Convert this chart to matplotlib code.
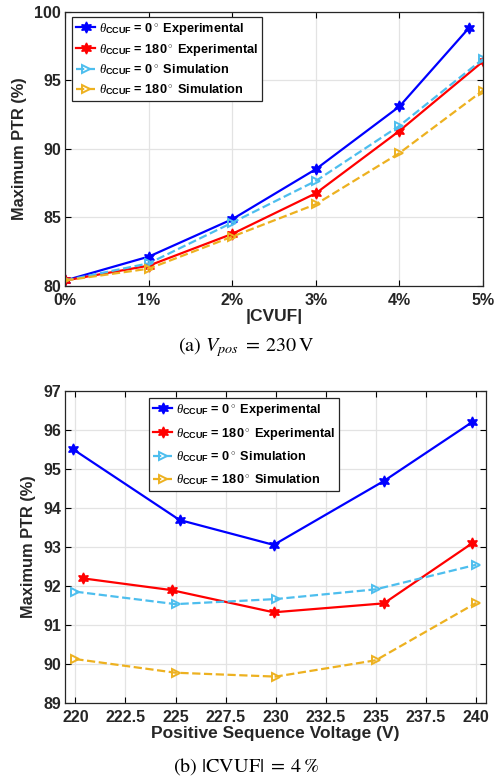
import matplotlib
matplotlib.use("Agg")
import matplotlib.pyplot as plt

plt.rcParams['font.family'] = ['Liberation Sans', 'DejaVu Sans']
plt.rcParams['mathtext.fontset'] = 'custom'
plt.rcParams['mathtext.rm'] = 'Liberation Sans:bold'
plt.rcParams['mathtext.bf'] = 'Liberation Sans:bold'
plt.rcParams['mathtext.it'] = 'Liberation Serif:italic'

# ---- data (a) ----
cvuf_x = [0, 1, 2, 3, 4, 4.83]
cvuf_x_full = [0, 1, 2, 3, 4, 5]
a_exp0 = [80.4, 82.14, 84.87, 88.52, 93.09, 98.8]
a_exp180 = [80.4, 81.48, 83.8, 86.76, 91.31, 96.37]
a_sim0 = [80.4, 81.65, 84.62, 87.66, 91.68, 96.55]
a_sim180 = [80.4, 81.26, 83.6, 85.96, 89.69, 94.25]
a_xticks = [0, 1, 2, 3, 4, 5]
a_xticklabels = ['0%', '1%', '2%', '3%', '4%', '5%']

# ---- data (b) ----
b_x_exp0 = [219.9, 225.2, 229.9, 235.4, 239.8]
b_x_exp180 = [220.4, 224.8, 229.9, 235.4, 239.8]
b_x_sim = [220, 225, 230, 235, 240]
b_exp0 = [95.50, 93.69, 93.05, 94.69, 96.2]
b_exp180 = [92.19, 91.89, 91.32, 91.55, 93.09]
b_sim0 = [91.85, 91.53, 91.66, 91.91, 92.54]
b_sim180 = [90.12, 89.77, 89.67, 90.09, 91.56]
b_xticks = [220, 222.5, 225, 227.5, 230, 232.5, 235, 237.5, 240]
b_xticklabels = ['220', '222.5', '225', '227.5', '230', '232.5', '235', '237.5', '240']

labels = [r'$\mathit{\theta}_{\mathbf{CCUF}}$ = 0$^\circ$ Experimental',
          r'$\mathit{\theta}_{\mathbf{CCUF}}$ = 180$^\circ$ Experimental',
          r'$\mathit{\theta}_{\mathbf{CCUF}}$ = 0$^\circ$ Simulation',
          r'$\mathit{\theta}_{\mathbf{CCUF}}$ = 180$^\circ$ Simulation']

c_blue = '#0000FF'
c_red = '#FF0000'
c_cyan = '#4DBEEE'
c_orange = '#EDB120'
star = (6, 1, 0)

fig = plt.figure(figsize=(4.96, 7.77), dpi=100)
ax1 = fig.add_axes([0.1317, 0.632, 0.9738 - 0.1317, 0.985 - 0.632])
ax2 = fig.add_axes([0.1317, 0.0956, 0.980 - 0.1317, 0.4968 - 0.0956])


def style(ax):
    ax.grid(True, color='#e3e3e3', linewidth=0.9)
    ax.set_axisbelow(True)
    ax.tick_params(direction='in', top=True, right=True, length=4, width=0.8,
                   labelsize=11.5)
    ax.tick_params(axis='x', pad=5)
    ax.tick_params(axis='y', pad=3)
    for lab in ax.get_xticklabels() + ax.get_yticklabels():
        lab.set_fontweight('bold')
        lab.set_color('#262626')
    for s in ax.spines.values():
        s.set_color('#262626')
        s.set_linewidth(0.9)


# (a)
ax1.plot(cvuf_x, a_exp0, '-', color=c_blue, lw=1.6, marker=star, ms=8, label=labels[0])
ax1.plot(cvuf_x_full, a_exp180, '-', color=c_red, lw=1.6, marker=star, ms=8, label=labels[1])
ax1.plot(cvuf_x_full, a_sim0, '--', color=c_cyan, lw=1.6, marker='>', ms=6, mfc='none', mew=1.4, label=labels[2])
ax1.plot(cvuf_x_full, a_sim180, '--', color=c_orange, lw=1.6, marker='>', ms=6, mfc='none', mew=1.4, label=labels[3])
ax1.set_xlim(0, 5)
ax1.set_ylim(80, 100)
ax1.set_xticks(a_xticks)
ax1.set_xticklabels(a_xticklabels)
ax1.set_yticks([80, 85, 90, 95, 100])
style(ax1)
ax1.set_xlabel('|CVUF|', fontsize=12.5, fontweight='bold', color='#262626', labelpad=1)
ax1.set_ylabel('Maximum PTR (%)', fontsize=11.8, fontweight='bold', color='#262626', labelpad=5)
leg1 = ax1.legend(loc='upper left', bbox_to_anchor=(0.008, 0.995), prop={'weight': 'bold', 'size': 9.2},
                  fancybox=False, framealpha=1, edgecolor='#262626', handlelength=1.5,
                  handletextpad=0.3, borderpad=0.3, labelspacing=0.38, borderaxespad=0.3)
leg1.get_frame().set_linewidth(0.9)

# (b)
ax2.plot(b_x_exp0, b_exp0, '-', color=c_blue, lw=1.6, marker=star, ms=8, label=labels[0])
ax2.plot(b_x_exp180, b_exp180, '-', color=c_red, lw=1.6, marker=star, ms=8, label=labels[1])
ax2.plot(b_x_sim, b_sim0, '--', color=c_cyan, lw=1.6, marker='>', ms=6, mfc='none', mew=1.4, label=labels[2])
ax2.plot(b_x_sim, b_sim180, '--', color=c_orange, lw=1.6, marker='>', ms=6, mfc='none', mew=1.4, label=labels[3])
ax2.set_xlim(219.5, 240.5)
ax2.set_ylim(89, 97)
ax2.set_xticks(b_xticks)
ax2.set_xticklabels(b_xticklabels)
ax2.set_yticks([89, 90, 91, 92, 93, 94, 95, 96, 97])
style(ax2)
ax2.set_xlabel('Positive Sequence Voltage (V)', fontsize=12.5, fontweight='bold', color='#262626', labelpad=1)
ax2.set_ylabel('Maximum PTR (%)', fontsize=11.8, fontweight='bold', color='#262626', labelpad=5)
leg2 = ax2.legend(loc='upper left', bbox_to_anchor=(0.19, 0.99), prop={'weight': 'bold', 'size': 9.2},
                  fancybox=False, framealpha=1, edgecolor='#262626', handlelength=1.5,
                  handletextpad=0.3, borderpad=0.3, labelspacing=0.62, borderaxespad=0.3)
leg2.get_frame().set_linewidth(0.9)

# captions
fig.text(0.497, 1 - 347 / 777, r'(a) $V_{pos}\;=\;230\,\mathrm{V}$', ha='center', va='center',
         fontsize=14.5, family='STIXGeneral', math_fontfamily='stix')
fig.text(0.497, 1 - 767 / 777, r'(b) $|\mathrm{CVUF}|\;=\;4\,\%$', ha='center', va='center',
         fontsize=14.5, family='STIXGeneral', math_fontfamily='stix')

fig.savefig('out.png', dpi=100)
